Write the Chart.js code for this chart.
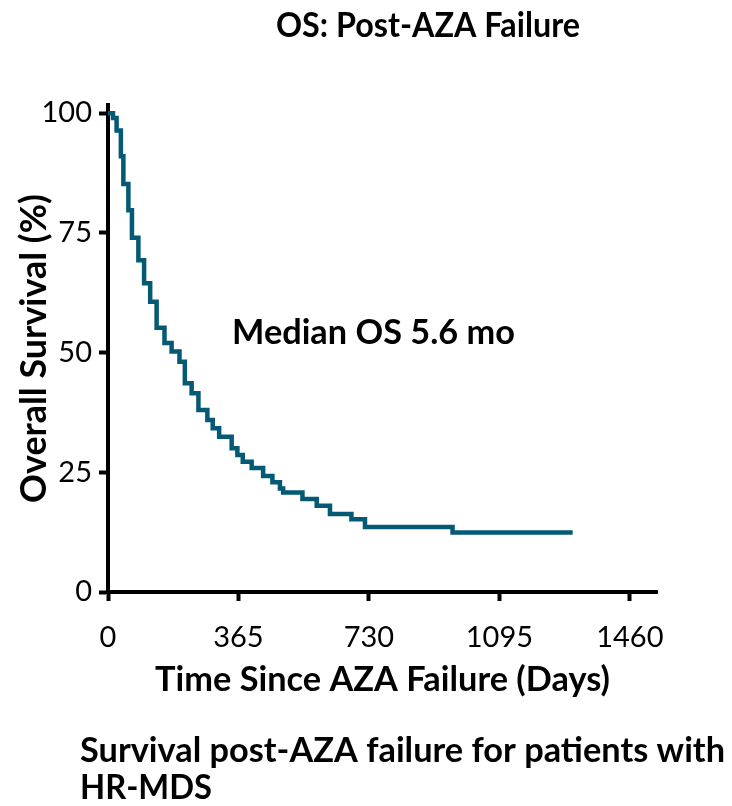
<!DOCTYPE html>
<html>
<head>
<meta charset="utf-8">
<script src="https://cdn.jsdelivr.net/npm/chart.js@4/dist/chart.umd.min.js"></script>
<style>
  html, body { margin: 0; padding: 0; background: #fff; }
  #chart { display: block; }
</style>
</head>
<body>
<canvas id="chart" width="732" height="806"></canvas>
<script>
// Kaplan-Meier curve (day of drop, survival % after it)
const days = [0, 14, 24, 36, 43, 57, 67, 85, 101, 118, 136, 158, 178, 200, 215, 234, 253, 278, 293, 311,
  346, 362, 377, 402, 434, 460, 481, 490, 544, 584, 621, 681, 719, 964, 1300];
const survival = [100, 99, 96.4, 91, 85.2, 79.7, 74, 69.3, 64.5, 60.6, 55.2, 52, 50.2, 48.1, 43.6, 41.5, 38, 35.9, 34.2, 32.4,
  30, 28.6, 27.2, 25.9, 24.2, 22.9, 21.6, 20.8, 19.4, 18, 16.3, 15.2, 13.6, 12.4, 12.4];

const xTicks = [0, 365, 730, 1095, 1460];
const yTicks = [0, 25, 50, 75, 100];

const titleText = "OS: Post-AZA Failure";
const medianText = "Median OS 5.6 mo";
const captionLines = ["Survival post-AZA failure for patients with", "HR-MDS"];

const FONT = "Lato";

// 文字幅から見出しのフォントサイズを決める
function fitSize(text, targetWidth) {
  const c = document.createElement("canvas").getContext("2d");
  c.font = "bold 40px " + FONT;
  return 40 * targetWidth / c.measureText(text).width;
}

const yTitleSize = fitSize("Overall Survival (%)", 309);
const xTitleSize = fitSize("Time Since AZA Failure (Days)", 455);

// タイトル・注記・キャプション
const textPlugin = {
  id: "texts",
  afterDraw(chart) {
    const ctx = chart.ctx;
    ctx.save();
    ctx.fillStyle = "#000";
    ctx.textBaseline = "alphabetic";

    ctx.font = "bold 35px " + FONT;
    ctx.textAlign = "center";
    ctx.fillText(titleText, 428, 37, 304);

    ctx.textAlign = "left";
    ctx.fillText(medianText, 232, 344, 283);

    ctx.fillText(captionLines[0], 80, 762, 645);
    ctx.fillText(captionLines[1], 80, 799, 132);
    ctx.restore();
  },
};

const ctx = document.getElementById("chart");

new Chart(ctx, {
  type: "line",
  data: {
    datasets: [
      {
        data: days.map((d, i) => ({ x: d, y: survival[i] })),
        stepped: true,
        borderColor: "#045a74",
        borderWidth: 4.5,
        pointRadius: 0,
        fill: false,
      },
    ],
  },
  options: {
    responsive: false,
    animation: false,
    layout: {
      padding: { left: 0, top: 105, right: 75, bottom: 94 },
    },
    plugins: {
      legend: { display: false },
      tooltip: { enabled: false },
    },
    scales: {
      x: {
        type: "linear",
        min: 0,
        max: 1536,
        afterBuildTicks: (scale) => {
          scale.ticks = xTicks.map((v) => ({ value: v }));
        },
        afterFit: (scale) => {
          scale.height = 120;
        },
        grid: {
          drawOnChartArea: false,
          tickLength: 9,
          tickWidth: 4,
          tickColor: "#000",
        },
        border: { color: "#000", width: 4 },
        ticks: {
          color: "#000",
          padding: 19,
          maxRotation: 0,
          font: { family: FONT, size: 29 },
          callback: (value) => String(value),
        },
        title: {
          display: true,
          text: "Time Since AZA Failure (Days)",
          color: "#000",
          font: { family: FONT, size: xTitleSize, weight: "bold" },
          padding: { top: 0, bottom: 11 },
        },
      },
      y: {
        min: 0,
        max: 101.7,
        afterBuildTicks: (scale) => {
          scale.ticks = yTicks.map((v) => ({ value: v }));
        },
        afterFit: (scale) => {
          scale.width = 108;
        },
        grid: {
          drawOnChartArea: false,
          tickLength: 9,
          tickWidth: 4,
          tickColor: "#000",
        },
        border: { color: "#000", width: 4 },
        ticks: {
          color: "#000",
          padding: 7,
          font: { family: FONT, size: 29 },
          callback: (value) => String(value),
        },
        title: {
          display: true,
          text: "Overall Survival (%)",
          color: "#000",
          font: { family: FONT, size: yTitleSize, weight: "bold" },
          padding: { top: 34 - yTitleSize * 0.6, bottom: 0 },
        },
      },
    },
  },
  plugins: [textPlugin],
});
</script>
</body>
</html>
